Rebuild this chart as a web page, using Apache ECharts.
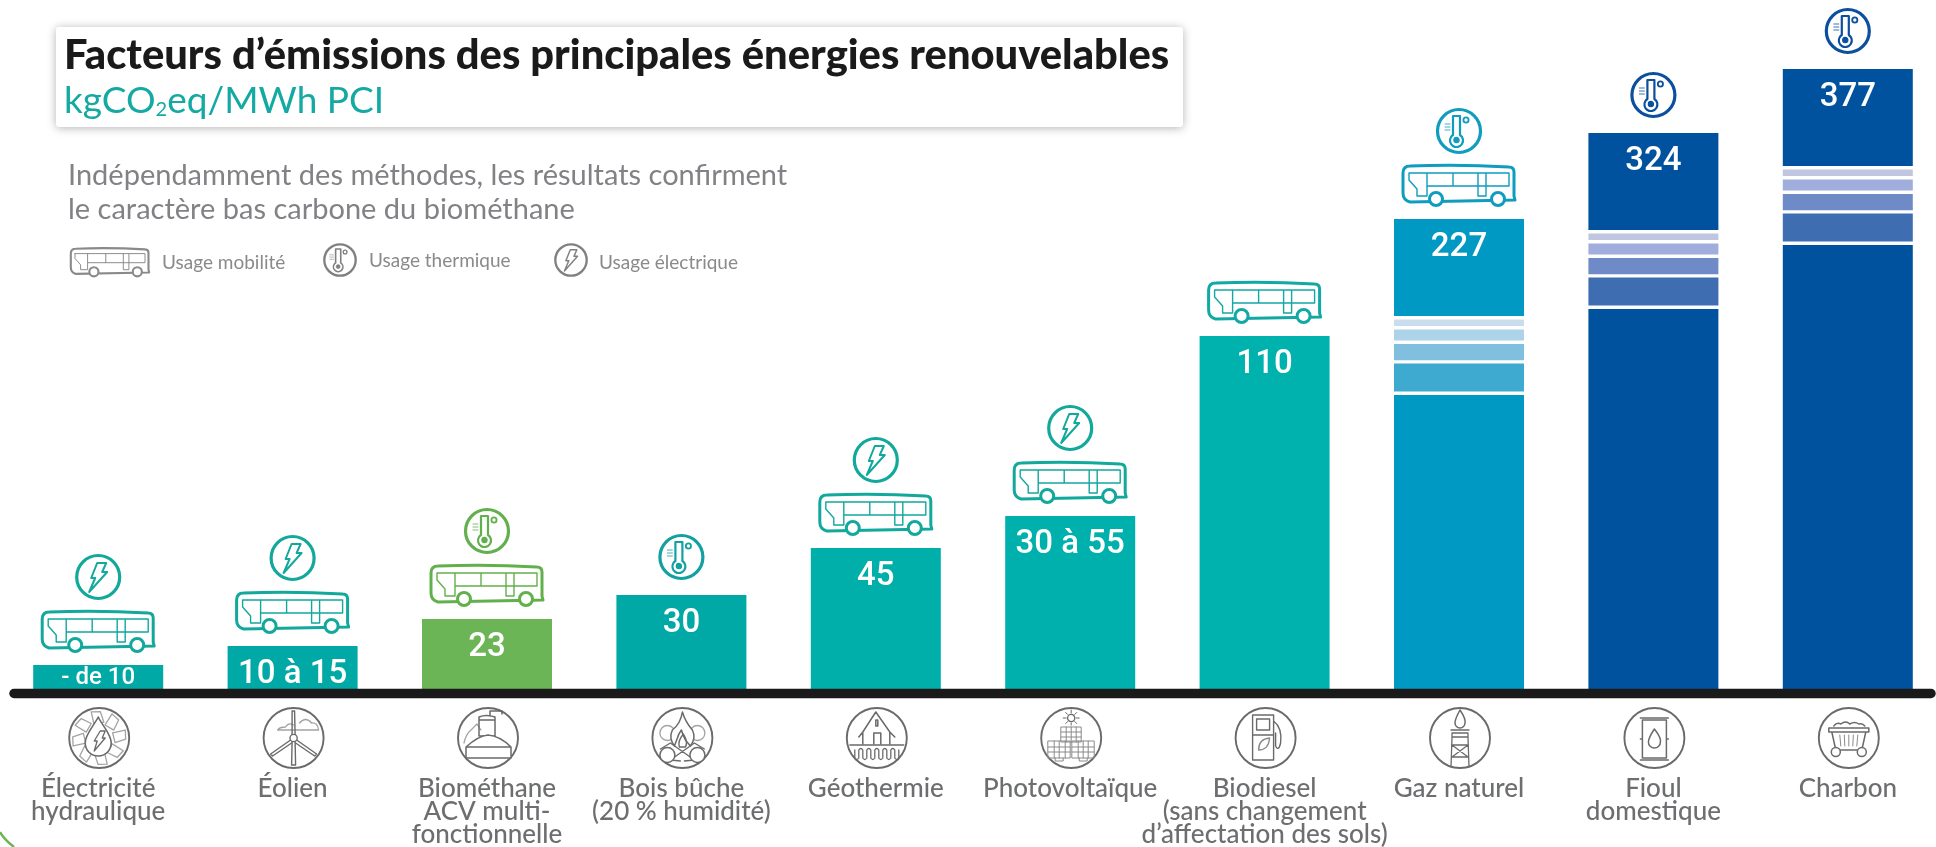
<!DOCTYPE html>
<html>
<head>
<meta charset="utf-8">
<title>Facteurs d'émissions</title>
<script src="https://cdn.jsdelivr.net/npm/echarts@6/dist/echarts.min.js"></script>
<style>
html, body { margin: 0; padding: 0; background: #fff; }
#main { width: 1936px; height: 847px; }
</style>
</head>
<body>
<div id="main"></div>
<script>
var categories = ['Électricité\nhydraulique', 'Éolien', 'Biométhane\nACV multi-\nfonctionnelle', 'Bois bûche\n(20 % humidité)', 'Géothermie', 'Photovoltaïque', 'Biodiesel\n(sans changement\nd’affectation des sols)', 'Gaz naturel', 'Fioul\ndomestique', 'Charbon'];
var valueLabels = ['- de 10', '10 à 15', '23', '30', '45', '30 à 55', '110', '227', '324', '377'];

// the bars of the picture are not drawn to scale with their printed values,
// so these are the levels as measured on the picture, split in stacked parts
var lowerPart = [24, 43, 70, 94, 141, 173, 353, 294, 380, 444];
var stripeGap = [0, 0, 0, 0, 0, 0, 0, 3.4, 3.4, 3.4];
var stripe1 = [0, 0, 0, 0, 0, 0, 0, 28, 28, 28];
var stripe2 = [0, 0, 0, 0, 0, 0, 0, 16.3, 16.3, 16.3];
var stripe3 = [0, 0, 0, 0, 0, 0, 0, 11, 11, 11];
var stripe4 = [0, 0, 0, 0, 0, 0, 0, 6.7, 6.7, 6.7];
var upperPart = [0, 0, 0, 0, 0, 0, 0, 97, 97, 97];

var barColors = ['#00a9a6', '#00a9a6', '#6cb556', '#00a9a6', '#00aeaa', '#00b0ac', '#00b2ae', '#0099c4', '#00529f', '#00529f'];
var iconColors = ['#12a89c', '#12a89c', '#62b04c', '#12a0a0', '#12a89c', '#12a89c', '#12a8a4', '#0f9cbf', '#0c4f9e', '#0c4f9e'];
var cyanStripes = ['#3faad0', '#80c0de', '#acd3e8', '#c9dded'];
var blueStripes = ['#3f6db2', '#6e8bc7', '#a0aedd', '#c0c5e0'];

var hasBus = [1, 1, 1, 0, 1, 1, 1, 1, 0, 0];
var circleIcons = ['bolt', 'bolt', 'thermo', 'thermo', 'bolt', 'bolt', '', 'thermo', 'thermo', 'thermo'];
var pictograms = ['hydro', 'wind', 'biogas', 'wood', 'geo', 'solar', 'pump', 'gas', 'barrel', 'coal'];

var totals = lowerPart.map(function (v, i) {
    return v + stripeGap[i] * 5 + stripe1[i] + stripe2[i] + stripe3[i] + stripe4[i] + upperPart[i];
});

var GREY = '#6d6e70';
var FONT = 'Lato, "Open Sans", sans-serif';

function line(d, color, w, fill) {
    return {
        type: 'path',
        shape: { pathData: d },
        style: { fill: fill || 'none', stroke: color, lineWidth: w, lineJoin: 'round', lineCap: 'round' }
    };
}

function circle(x, y, r, color, w, fill) {
    return {
        type: 'circle',
        shape: { cx: x, cy: y, r: r },
        style: { fill: fill || '#fff', stroke: color, lineWidth: w }
    };
}

function busIcon(color) {
    return [
        line('M-50,-12 L50,-12 L50,1 L-32,1 M-50,-12 L-50,-5 L-42,4 L-42,11 L-32,11 L-32,-12 M-6,-12 L-6,1 M19,-12 L19,11 L27,11 L27,-12', color, 1.4),
        line('M-56,-12 Q-56,-19 -49,-19 Q0,-21 50,-18 Q55,-18 55,-13 L55,11 L56,15 L-49,17 Q-56,15 -56,8 Z', color, 3),
        circle(-23, 14, 6.5, color, 3),
        circle(39, 14, 6.5, color, 3)
    ];
}

function circleIcon(kind, color) {
    var parts = [circle(0, 0, 21.5, color, 3.2)];
    if (kind === 'bolt') {
        parts.push(line('M-1,-14 L8,-14 L4,-5 L9,-5 L-9,15 L-3,1 L-7,1 Z', color, 2));
    } else {
        parts.push(line('M-6,-15 L1,-15 L1,4 A6.5,6.5 0 1 1 -6,4 Z', color, 2.2));
        parts.push(line('M-14,-7 L-9,-7 M-14,-4 L-9,-4 M-14,-1 L-9,-1', color, 0.8));
        parts.push(circle(-2.5, 9, 2.6, color, 1.2, color));
        parts.push(circle(7, -11, 2.6, color, 1.8));
    }
    return parts;
}

function pictogram(kind, c) {
    var parts = [circle(0, 0, 30, c, 1.9)];
    var i;
    if (kind === 'hydro') {
        for (i = 0; i < 8; i++) {
            var paddle = line('M-4,-27 L5,-26 L7,-15 L-3,-14 Z', '#a3a3a3', 1.3);
            paddle.rotation = i * Math.PI / 4 + 0.15;
            parts.push(paddle);
        }
        parts.push(line('M-1,-21 C4,-11 12,-4 12,5 A13,13 0 0 1 -14,5 C-14,-4 -6,-11 -1,-21 Z', c, 1.6, '#fff'));
        parts.push(line('M1,-7 L6,-7 L3,0 L6,0 L-5,13 L-2,3 L-5,3 Z', c, 1.3));
    } else if (kind === 'wind') {
        parts.push(line('M-16,-8 Q-14,-11 -8,-11 Q-5,-16 0,-13 M6,-15 Q12,-22 18,-15 Q24,-16 25,-8 L-16,-8', '#a3a3a3', 1.3));
        parts.push(line('M-1.5,-27 L1,-27 L1.5,-3 M-1.5,-27 L-1.5,-3 M-1.5,4 L-2,27 L2,27 L1.5,4', c, 1.4));
        parts.push(line('M-3,2 L-23,16 L-21,18 L-2,5 M3,2 L23,16 L21,18 L2,5', c, 1.4));
        parts.push(circle(0, 0, 3.6, c, 1.4));
    } else if (kind === 'biogas') {
        parts.push(line('M-24,5 Q-22,-4 -17,-8 L-11,-14 L-7,-8', '#a3a3a3', 1.3));
        parts.push(line('M-9,-2 L-9,-21 Q-2,-24 7,-21 L7,-2 Z M-9,-18 L7,-18 M2,-22 L2,-27 L14,-27 L14,-24', c, 1.5));
        parts.push(line('M-22,9 Q-10,-2 0,-3 Q12,-2 23,9 L23,20 L-22,20 Z M-22,9 L23,9', c, 1.5, '#fff'));
    } else if (kind === 'wood') {
        parts.push(circle(-15, -5, 7.5, '#a3a3a3', 1.3));
        parts.push(circle(15, -5, 7.5, '#a3a3a3', 1.3));
        parts.push(line('M0,-26 Q3,-16 10,-8 Q14,0 8,8 L3,2 Q0,-4 -1,-8 Q-4,-4 -5,0 L-8,8 Q-14,0 -10,-8 Q-2,-14 0,-26 Z', c, 1.5, '#fff'));
        parts.push(line('M1,-4 Q6,4 3,9 L-3,9 Q-5,3 1,-4 Z', c, 1.4));
        parts.push(line('M-22,11 L-12,5 L12,22 L2,23 M22,11 L12,5 L-12,22 L-2,23', c, 1.4));
        parts.push(circle(-15, 17, 7.5, c, 1.5));
        parts.push(circle(15, 17, 7.5, c, 1.5));
    } else if (kind === 'geo') {
        parts.push(line('M-14,6 L-14,-6 L-1,-26 L13,-6 L13,6 M-18,-1 L-14,-6 M13,-6 L18,-1 M-3,6 L-3,-5 L4,-5 L4,6 M-1,-18 L1,-18 L1,-12 L-1,-12 Z', c, 1.5));
        parts.push(line('M-27,7 L27,7 M-22,12 L-22,20 Q-20,23 -18,20 L-18,12 Q-16,9 -14,12 L-14,20 Q-12,23 -10,20 L-10,12 Q-8,9 -6,12 L-6,20 Q-4,23 -2,20 L-2,12 Q0,9 2,12 L2,20 Q4,23 6,20 L6,12 Q8,9 10,12 L10,20 Q12,23 14,20 L14,12 Q16,9 18,12 L18,20 Q20,23 22,20 L22,12', c, 1.3));
    } else if (kind === 'solar') {
        parts.push(circle(0, -20, 3.6, c, 1.3));
        parts.push(line('M0,-28 L0,-25 M0,-15 L0,-13 M-8,-20 L-5,-20 M5,-20 L8,-20 M-5.5,-25.5 L-3.5,-23.5 M3.5,-16.5 L5.5,-14.5 M5.5,-25.5 L3.5,-23.5 M-3.5,-16.5 L-5.5,-14.5', c, 1));
        parts.push(line('M-10,-11 L10,-11 L10,4 L-10,4 Z M-10,-6 L10,-6 M-10,-1 L10,-1 M-5,-11 L-5,4 M0,-11 L0,4 M5,-11 L5,4', '#8a8a8a', 1));
        parts.push(line('M-23,3 L-1,3 L-1,20 L-23,20 Z M1,3 L23,3 L23,20 L1,20 Z M-23,9 L-1,9 M-23,14 L-1,14 M1,9 L23,9 M1,14 L23,14 M-17,3 L-17,20 M-12,3 L-12,20 M-6,3 L-6,20 M7,3 L7,20 M12,3 L12,20 M17,3 L17,20 M-16,20 L-16,23 L-8,23 L-8,20 M8,20 L8,23 L16,23 L16,20', '#8a8a8a', 1));
    } else if (kind === 'pump') {
        parts.push(line('M-13,-23 L8,-23 L8,22 L-13,22 Z M-13,-3 L8,-3 M-9,-19 L4,-19 L4,-8 L-9,-8 Z M8,-17 Q17,-10 15,5 Q13,14 10,8 L10,-5', c, 1.4));
        parts.push(line('M-7,12 Q-7,1 4,0 Q3,12 -7,12 Z', '#8a8a8a', 1.3));
    } else if (kind === 'gas') {
        parts.push(line('M0,-28 Q6,-19 5,-15 A5,5 0 0 1 -5,-15 Q-5,-19 0,-28 Z', c, 1.5));
        parts.push(line('M-9,-8 L9,-8 M-8,-5 L8,-5 L8,-1 L-8,-1 Z M-8,-1 L-9,29 M8,-1 L9,29 M-8,7 L8,7 M-8,19 L8,19 M-8,7 L8,19 M8,7 L-8,19', c, 1.3));
    } else if (kind === 'barrel') {
        parts.push(line('M-12,-18 L12,-18 L12,20 L-12,20 Z M-14,-20 L14,-20 M-14,22 L14,22 M-14,1 L-12,1 M12,1 L14,1', c, 1.5));
        parts.push(line('M0,-9 Q7,0 6,4 A6,6 0 0 1 -6,4 Q-6,0 0,-9 Z', c, 1.5));
    } else if (kind === 'coal') {
        parts.push(line('M-15,-12 Q-12,-16 -8,-14 Q-3,-18 1,-14 Q6,-17 10,-14 Q14,-15 16,-12', c, 1.5));
        parts.push(line('M-20,-10 L20,-10 L20,-6 L-20,-6 Z M-17,-6 L-13,12 L13,12 L17,-6', c, 1.5));
        parts.push(line('M-9,-3 L-8,8 M-4.5,-3 L-4,8 M0,-3 L0,8 M4.5,-3 L4,8 M9,-3 L8,8', '#8a8a8a', 1));
        parts.push(circle(-13, 14, 4.5, c, 1.5));
        parts.push(circle(13, 14, 4.5, c, 1.5));
    }
    return parts;
}

function stackedBar(name, values, colorOf) {
    return {
        name: name,
        type: 'bar',
        stack: 'total',
        barWidth: 130,
        silent: true,
        z: 2,
        itemStyle: { color: colorOf },
        data: values
    };
}

function barColor(p) {
    return barColors[p.dataIndex];
}

function stripeColor(n) {
    return function (p) {
        return p.dataIndex === 7 ? cyanStripes[n] : blueStripes[n];
    };
}

var chart = echarts.init(document.getElementById('main'), null, { renderer: 'canvas' });

chart.setOption({
    animation: false,
    backgroundColor: '#fff',
    title: {
        left: 59,
        top: 30,
        itemGap: 6,
        text: 'Facteurs d’émissions des principales énergies renouvelables',
        textStyle: { fontFamily: FONT, fontWeight: 900, fontSize: 41.7, color: '#1a1a1a' },
        subtext: '{a|kgCO}{s|2}{a|eq/MWh PCI}',
        subtextStyle: {
            rich: {
                a: { fontFamily: FONT, fontWeight: 400, fontSize: 37, color: '#14a9a2' },
                s: { fontFamily: FONT, fontWeight: 400, fontSize: 20, color: '#14a9a2', verticalAlign: 'bottom', padding: [16, 0, 0, 0] }
            }
        }
    },
    grid: { left: 1, top: 0, width: 1944, height: 689, outerBoundsMode: 'none' },
    xAxis: {
        type: 'category',
        data: categories,
        axisLine: { show: false },
        axisTick: { show: false },
        axisLabel: {
            interval: 0,
            margin: 88,
            color: GREY,
            fontFamily: FONT,
            fontWeight: 500,
            fontSize: 26,
            lineHeight: 23
        }
    },
    yAxis: { type: 'value', min: 0, max: 689, show: false, splitLine: { show: false } },
    graphic: [
        {
            type: 'rect',
            shape: { x: 56, y: 27, width: 1127, height: 100, r: 3 },
            style: { fill: '#fff', shadowBlur: 10, shadowColor: 'rgba(0,0,0,0.3)', shadowOffsetY: 1 },
            z: -1
        },
        { type: 'text', x: 68, y: 159, style: { text: 'Indépendamment des méthodes, les résultats confirment\nle caractère bas carbone du biométhane', fill: '#808285', font: '29px ' + FONT, lineHeight: 34 } },
        { type: 'text', x: 162, y: 253, style: { text: 'Usage mobilité', fill: '#8a8a8a', font: '19px ' + FONT } },
        { type: 'text', x: 369, y: 251, style: { text: 'Usage thermique', fill: '#8a8a8a', font: '19px ' + FONT } },
        { type: 'text', x: 599, y: 253, style: { text: 'Usage électrique', fill: '#8a8a8a', font: '19px ' + FONT } },
        { type: 'line', shape: { x1: 14, y1: 693.5, x2: 1931, y2: 693.5 }, style: { stroke: '#1a1a1a', lineWidth: 9.5, lineCap: 'round' }, z: 20 },
        { type: 'bezierCurve', shape: { x1: 0, y1: 832, cpx1: 4, cpy1: 839, x2: 14, y2: 847 }, style: { fill: 'none', stroke: '#6cb556', lineWidth: 2.5 } }
    ],
    series: [
        stackedBar('bas', lowerPart, barColor),
        stackedBar('e1', stripeGap, 'transparent'),
        stackedBar('s1', stripe1, stripeColor(0)),
        stackedBar('e2', stripeGap, 'transparent'),
        stackedBar('s2', stripe2, stripeColor(1)),
        stackedBar('e3', stripeGap, 'transparent'),
        stackedBar('s3', stripe3, stripeColor(2)),
        stackedBar('e4', stripeGap, 'transparent'),
        stackedBar('s4', stripe4, stripeColor(3)),
        stackedBar('e5', stripeGap, 'transparent'),
        stackedBar('haut', upperPart, barColor),
        {
            name: 'valeurs',
            type: 'bar',
            barWidth: 130,
            barGap: '-100%',
            silent: true,
            z: 3,
            itemStyle: { color: 'transparent' },
            label: {
                show: true,
                position: 'insideTop',
                distance: 12,
                color: '#fff',
                fontFamily: 'Roboto, sans-serif',
                fontWeight: 500,
                fontSize: 33,
                formatter: function (p) { return valueLabels[p.dataIndex]; }
            },
            data: totals.map(function (v, i) {
                return i === 0 ? { value: v, label: { fontSize: 24, distance: 1, fontWeight: 500 } } : v;
            })
        },
        {
            name: 'usages',
            type: 'custom',
            silent: true,
            z: 4,
            data: totals.map(function (v, i) { return [i, v]; }),
            encode: { x: 0, y: 1 },
            renderItem: function (params, api) {
                var i = api.value(0);
                var top = api.coord([i, api.value(1)]);
                var kids = [];
                if (hasBus[i]) {
                    kids.push({ type: 'group', y: -34, children: busIcon(iconColors[i]) });
                }
                if (circleIcons[i]) {
                    kids.push({ type: 'group', y: hasBus[i] ? -88 : -38, children: circleIcon(circleIcons[i], iconColors[i]) });
                }
                return { type: 'group', x: top[0], y: top[1], children: kids };
            }
        },
        {
            name: 'filieres',
            type: 'custom',
            silent: true,
            z: 4,
            data: pictograms.map(function (v, i) { return [i, 0]; }),
            encode: { x: 0, y: 1 },
            renderItem: function (params, api) {
                var i = api.value(0);
                var base = api.coord([i, 0]);
                return { type: 'group', x: base[0] + 1, y: base[1] + 49, children: pictogram(pictograms[i], '#6a6a6a') };
            }
        },
        {
            name: 'legende',
            type: 'custom',
            coordinateSystem: 'none',
            silent: true,
            data: [0],
            renderItem: function () {
                return {
                    type: 'group',
                    children: [
                        { type: 'group', x: 110, y: 262, scaleX: 0.7, scaleY: 0.7, children: busIcon('#8a8a8a') },
                        { type: 'group', x: 340, y: 260, scaleX: 0.73, scaleY: 0.73, children: circleIcon('thermo', '#808080') },
                        { type: 'group', x: 571, y: 260, scaleX: 0.73, scaleY: 0.73, children: circleIcon('bolt', '#808080') }
                    ]
                };
            }
        }
    ]
});
</script>
</body>
</html>
